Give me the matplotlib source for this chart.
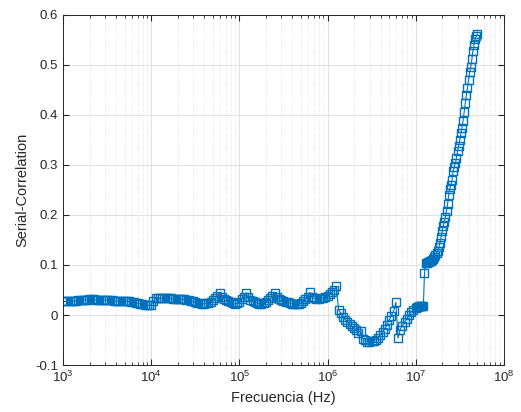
import matplotlib
matplotlib.use('Agg')
import matplotlib.pyplot as plt
import numpy as np

# Frequency mantissas (one per point inside a decade)
mant_coarse = [1.000, 1.059, 1.122, 1.189, 1.259, 1.334, 1.413, 1.496, 1.585, 1.679,
               1.778, 1.884, 1.995, 2.113, 2.239, 2.371, 2.512, 2.661, 2.818, 2.985,
               3.162, 3.350, 3.548, 3.758, 3.981, 4.217, 4.467, 4.732, 5.012, 5.309,
               5.623, 5.957, 6.310, 6.683, 7.079, 7.499, 7.943, 8.414, 8.913, 9.441]
mant_fine = [1.000, 1.029, 1.059, 1.090, 1.122, 1.155, 1.189, 1.223, 1.259, 1.296,
             1.334, 1.372, 1.413, 1.454, 1.496, 1.540, 1.585, 1.631, 1.679, 1.728,
             1.778, 1.830, 1.884, 1.939, 1.995, 2.054, 2.113, 2.175, 2.239, 2.304,
             2.371, 2.441, 2.512, 2.585, 2.661, 2.738, 2.818, 2.901, 2.985, 3.073,
             3.162, 3.255, 3.350, 3.448, 3.548, 3.652, 3.758, 3.868, 3.981, 4.097,
             4.217, 4.340, 4.467, 4.597, 4.732, 4.870, 5.012]

# Serial correlation per decade
corr_1e3 = [0.027, 0.027, 0.027, 0.027, 0.028, 0.028, 0.028, 0.029, 0.029, 0.030,
            0.030, 0.030, 0.031, 0.031, 0.031, 0.030, 0.030, 0.030, 0.030, 0.030,
            0.030, 0.029, 0.029, 0.028, 0.028, 0.028, 0.027, 0.027, 0.027, 0.028,
            0.027, 0.026, 0.025, 0.024, 0.023, 0.022, 0.021, 0.020, 0.019, 0.019]
corr_1e4 = [0.020, 0.028, 0.033, 0.034, 0.033, 0.033, 0.033, 0.033, 0.033, 0.033,
            0.032, 0.032, 0.032, 0.032, 0.031, 0.031, 0.030, 0.029, 0.028, 0.027,
            0.025, 0.024, 0.023, 0.022, 0.022, 0.023, 0.024, 0.026, 0.029, 0.033,
            0.037, 0.044, 0.036, 0.031, 0.029, 0.027, 0.025, 0.023, 0.022, 0.023]
corr_1e5 = [0.026, 0.031, 0.036, 0.044, 0.035, 0.030, 0.028, 0.026, 0.024, 0.022,
            0.022, 0.023, 0.025, 0.029, 0.033, 0.037, 0.044, 0.035, 0.031, 0.029,
            0.028, 0.026, 0.025, 0.024, 0.022, 0.021, 0.021, 0.022, 0.024, 0.027,
            0.031, 0.036, 0.045, 0.035, 0.033, 0.032, 0.032, 0.033, 0.034, 0.036]
corr_1e6 = [0.038, 0.041, 0.045, 0.050, 0.057, 0.011, 0.004, -0.003, -0.009, -0.014,
            -0.018, -0.022, -0.026, -0.030, -0.036, -0.031, -0.047, -0.050, -0.053, -0.053,
            -0.052, -0.051, -0.049, -0.046, -0.040, -0.033, -0.027, -0.020, -0.010, -0.001,
            0.008, 0.025, -0.046, -0.029, -0.021, -0.014, -0.007, 0.001, 0.006, 0.010]
corr_1e7 = [0.013, 0.015, 0.016, 0.017, 0.018, 0.018, 0.018, 0.018, 0.083, 0.103,
            0.104, 0.105, 0.106, 0.107, 0.108, 0.109, 0.111, 0.115, 0.119, 0.123,
            0.128, 0.135, 0.144, 0.155, 0.167, 0.178, 0.186, 0.195, 0.208, 0.222,
            0.240, 0.252, 0.260, 0.270, 0.287, 0.296, 0.303, 0.314, 0.327, 0.338,
            0.350, 0.363, 0.374, 0.388, 0.405, 0.423, 0.440, 0.454, 0.470, 0.485,
            0.496, 0.511, 0.528, 0.540, 0.552, 0.558, 0.562]

freq = np.concatenate([np.array(mant_coarse) * 1e3, np.array(mant_coarse) * 1e4,
                       np.array(mant_coarse) * 1e5, np.array(mant_coarse) * 1e6,
                       np.array(mant_fine) * 1e7])
corr = np.concatenate([corr_1e3, corr_1e4, corr_1e5, corr_1e6, corr_1e7])

plt.rcParams['font.family'] = ['Liberation Sans', 'DejaVu Sans']
dark = '#262626'

fig = plt.figure(figsize=(5.21, 4.12), dpi=100)
ax = fig.add_axes([0.121, 0.114, 0.846, 0.850])

ax.semilogx(freq, corr, '-s', color='#0072BD', linewidth=0.8,
            markersize=6, markerfacecolor='none', markeredgewidth=1.0)

ax.set_xlim(1e3, 1e8)
ax.set_ylim(-0.1, 0.6)
ax.set_yticks([-0.1, 0, 0.1, 0.2, 0.3, 0.4, 0.5, 0.6])
ax.set_yticklabels(['-0.1', '0', '0.1', '0.2', '0.3', '0.4', '0.5', '0.6'])

ax.grid(True, which='major', color='#dcdcdc', linewidth=0.6)
ax.grid(True, which='minor', axis='x', color='#dcdcdc', linestyle=':', linewidth=0.6)
ax.set_axisbelow(True)

ax.tick_params(which='both', direction='in', top=True, right=True,
               colors=dark, labelsize=9.5, labelcolor=dark)
ax.tick_params(which='major', length=4)
ax.tick_params(which='minor', length=2)
for s in ax.spines.values():
    s.set_color(dark)
    s.set_linewidth(0.7)

ax.set_xlabel('Frecuencia (Hz)', fontsize=10.5, color=dark)
ax.set_ylabel('Serial-Correlation', fontsize=10.5, color=dark)

fig.savefig('out.png', dpi=100)
